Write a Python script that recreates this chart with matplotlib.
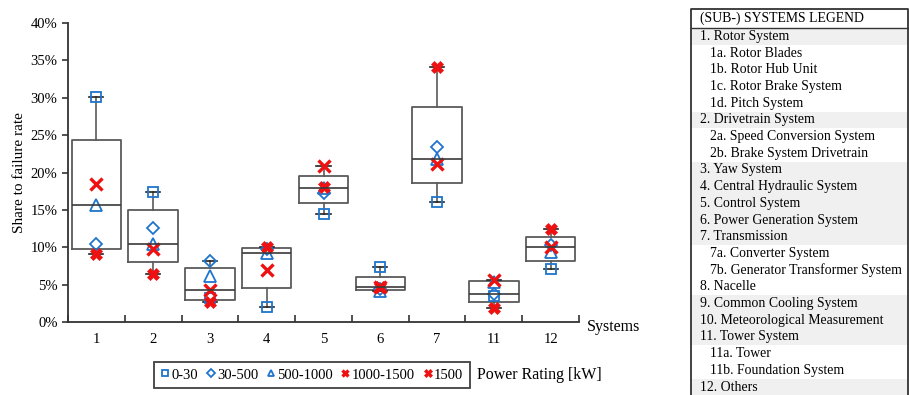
import numpy as np
import matplotlib
matplotlib.use("Agg")
import matplotlib.pyplot as plt
from matplotlib.patches import Rectangle
from matplotlib.ticker import PercentFormatter

plt.rcParams['font.family'] = ['Liberation Serif', 'DejaVu Serif']

# systems on the x axis
systems = ['1', '2', '3', '4', '5', '6', '7', '11', '12']

# share to failure rate [%] per power rating class
p_0_30 = [30.1, 17.35, 3.2, 2.05, 14.45, 7.4, 16.1, 3.5, 7.05]
p_30_500 = [10.4, 12.6, 8.2, 9.8, 17.3, 4.35, 23.4, 3.8, 10.3]
p_500_1000 = [15.7, 10.4, 6.2, 9.2, 17.9, 4.2, 21.8, 5.4, 9.4]
p_1000_1500 = [18.5, 9.7, 4.3, 7.0, 20.9, 4.72, 21.1, 5.6, 10.0]
p_1500 = [9.1, 6.4, 2.7, 10.1, 18.1, 4.64, 34.15, 1.83, 12.5]

classes = ['0-30', '30-500', '500-1000', '1000-1500', '1500']

# table on the right
legend_title = '(SUB-) SYSTEMS LEGEND'
legend_rows = ['1. Rotor System', '1a. Rotor Blades', '1b. Rotor Hub Unit',
               '1c. Rotor Brake System', '1d. Pitch System',
               '2. Drivetrain System', '2a. Speed Conversion System',
               '2b. Brake System Drivetrain', '3. Yaw System',
               '4. Central Hydraulic System', '5. Control System',
               '6. Power Generation System', '7. Transmission',
               '7a. Converter System', '7b. Generator Transformer System',
               '8. Nacelle', '9. Common Cooling System',
               '10. Meteorological Measurement', '11. Tower System',
               '11a. Tower', '11b. Foundation System', '12. Others']
shaded_rows = ['1.', '2.', '3.', '4.', '5.', '6.', '7.', '9.', '10.', '11.', '12.']

W, H = 909, 395
fig = plt.figure(figsize=(W / 100, H / 100), dpi=100)

ax = fig.add_axes([68 / W, 73 / H, (579 - 68) / W, (322 - 23) / H])
pos = np.arange(1, len(systems) + 1)

# boxes (exclusive quartiles, whiskers at min/max)
allvals = np.array([p_0_30, p_30_500, p_500_1000, p_1000_1500, p_1500])
stats = []
for i in range(len(systems)):
    v = allvals[:, i]
    q1, med, q3 = np.percentile(v, [25, 50, 75], method='weibull')
    stats.append(dict(med=med, q1=q1, q3=q3, whislo=v.min(), whishi=v.max(), fliers=[]))

ax.bxp(stats, positions=pos, widths=0.87, capwidths=0.25, showfliers=False,
       manage_ticks=False,
       boxprops=dict(color='#5a5a5a', lw=1.3),
       whiskerprops=dict(color='#5a5a5a', lw=1.2),
       capprops=dict(color='#222222', lw=1.2),
       medianprops=dict(color='#3a3a3a', lw=1.2))

blue = '#1f74cc'
red = '#ee1111'
ax.plot(pos, p_0_30, ls='none', marker='s', ms=7.5, mfc='none', mec=blue, mew=1.3, label=classes[0])
ax.plot(pos, p_30_500, ls='none', marker='D', ms=6.5, mfc='none', mec=blue, mew=1.3, label=classes[1])
ax.plot(pos, p_500_1000, ls='none', marker='^', ms=8, mfc='none', mec=blue, mew=1.3, label=classes[2])
ax.plot(pos, p_1000_1500, ls='none', marker='x', ms=8, mec=red, mew=2.4, label=classes[3])
ax.plot(pos, p_1500, ls='none', marker='X', ms=9, mfc=red, mec=red, mew=0.5, label=classes[4])

ax.set_xlim(0.5, len(systems) + 0.5)
ax.set_ylim(0, 40)
ax.yaxis.set_major_formatter(PercentFormatter(100, decimals=0))
ax.set_yticks(np.arange(0, 41, 5))
ax.set_xticks(pos)
ax.set_xticklabels(systems)
ax.set_xticks(np.arange(0.5, len(systems) + 1), minor=True)
ax.tick_params(axis='x', which='major', length=0, pad=8, labelsize=10.5)
ax.tick_params(axis='x', which='minor', length=5, width=1.2, color='#333333', direction='in')
ax.tick_params(axis='y', length=4, width=1.2, color='#333333', labelsize=10.5)
for s in ['top', 'right']:
    ax.spines[s].set_visible(False)
for s in ['left', 'bottom']:
    ax.spines[s].set_color('#333333')
    ax.spines[s].set_linewidth(1.3)
ax.set_ylabel('Share to failure rate', fontsize=11, labelpad=3)
fig.text(587 / W, 1 - 327 / H, 'Systems', fontsize=11.5, va='center', ha='left')

leg = fig.legend(loc='center', bbox_to_anchor=(312 / W, 1 - 375 / H), ncol=5,
                 fontsize=10.5, markerscale=0.6, handlelength=0.6, handletextpad=0.15,
                 columnspacing=0.55, frameon=True, fancybox=False, borderpad=0.45)
leg.get_frame().set_edgecolor('#111111')
leg.get_frame().set_linewidth(1.3)
fig.text(477 / W, 1 - 375 / H, 'Power Rating [kW]', fontsize=11.5, va='center', ha='left')

# systems legend table
tx = fig.add_axes([0, 0, 1, 1])
tx.set_xlim(0, W)
tx.set_ylim(H, 0)
tx.axis('off')
left, right, top = 691, 908, 9
head_h, row_h = 19, 16.7
for i, row in enumerate(legend_rows):
    y0 = top + head_h + i * row_h
    if row.split(' ')[0] in shaded_rows:
        tx.add_patch(Rectangle((left, y0), right - left, row_h, fc='#f0f0f0', ec='none'))
    indent = 0 if row.split(' ')[0] in shaded_rows or row.startswith('8.') else 10
    tx.text(left + 9 + indent, y0 + row_h / 2, row, fontsize=9.9, va='center', ha='left')
tx.text(left + 9, top + head_h / 2, legend_title, fontsize=9.9, va='center', ha='left')
tx.plot([left, left, right, right], [H + 5, top, top, H + 5], color='#333333', lw=1.3)
tx.plot([left, right], [top + head_h, top + head_h], color='#333333', lw=1.0)

fig.savefig('out.png', dpi=100)
